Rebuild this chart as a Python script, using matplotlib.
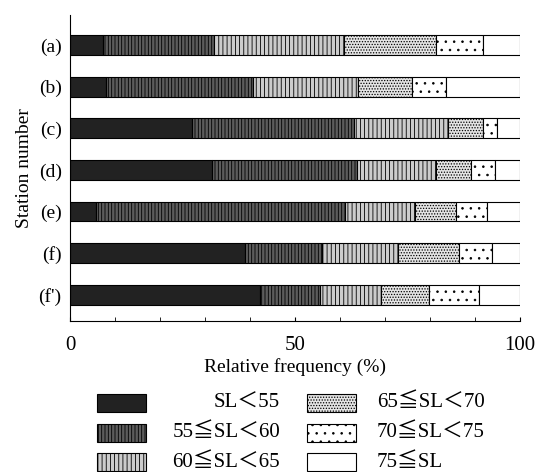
import numpy as np
import matplotlib
matplotlib.use('Agg')
import matplotlib.pyplot as plt
from matplotlib.patches import Rectangle
from matplotlib.ticker import MultipleLocator

plt.rcParams['font.family'] = ['Liberation Serif', 'Noto Sans CJK JP', 'DejaVu Sans']
plt.rcParams['hatch.linewidth'] = 0.6

stations = ['(a)', '(b)', '(c)', '(d)', '(e)', '(f)', "(f')"]
classes = ['SL＜55', '55≦SL＜60', '60≦SL＜65', '65≦SL＜70', '70≦SL＜75', '75≦SL']

# relative frequency (%) per class, one list per class, station order as above
sl_lt55 = [7.4, 8.0, 27.0, 31.5, 5.8, 38.8, 42.2]
sl_55_60 = [24.5, 32.6, 36.0, 32.3, 55.4, 17.2, 13.4]
sl_60_65 = [29.0, 23.4, 21.0, 17.5, 15.4, 16.8, 13.6]
sl_65_70 = [20.4, 11.9, 7.7, 7.7, 9.1, 13.6, 10.5]
sl_70_75 = [10.4, 7.6, 3.1, 5.4, 6.9, 7.4, 11.1]
sl_ge75 = [8.3, 16.5, 5.2, 5.6, 7.4, 6.2, 9.2]
series = [sl_lt55, sl_55_60, sl_60_65, sl_65_70, sl_70_75, sl_ge75]

# fill colour and hatch for each class
styles = [('#222222', ''), ('#5c5c5c', '|||||'), ('#cccccc', '||||'),
          ('#e4e4e4', '......'), ('#ffffff', '..'), ('#ffffff', '')]

fig = plt.figure(figsize=(5.39, 4.72), dpi=100)
ax = fig.add_axes([70/539, 1 - 321/472, 450/539, 306/472])

y = np.arange(len(stations))
left = np.zeros(len(stations))
for vals, (fc, h) in zip(series, styles):
    ax.barh(y, vals, left=left, height=0.48, color=fc, hatch=h,
            edgecolor='black', linewidth=0.8)
    left += np.array(vals)

ax.set_xlim(0, 100)
ax.set_ylim(len(stations) - 1 + 0.63, -0.72)
ax.set_yticks(y)
ax.set_yticklabels(stations, fontsize=14)
ax.tick_params(axis='y', length=0, pad=6)
ax.set_xticks([0, 50, 100])
ax.xaxis.set_minor_locator(MultipleLocator(10))
ax.tick_params(axis='x', which='both', direction='in', length=3, labelsize=15, pad=11)
ax.spines['top'].set_visible(False)
ax.spines['right'].set_visible(False)
ax.set_xlabel('Relative frequency (%)', fontsize=14, labelpad=2)
ax.set_ylabel('Station number', fontsize=14, labelpad=4)

# legend, two columns of three
row_y = [403, 433, 462]
for i, (lab, (fc, h)) in enumerate(zip(classes, styles)):
    col, row = divmod(i, 3)
    px = 97 if col == 0 else 307
    yc = row_y[row]
    fig.patches.append(Rectangle((px/539, 1 - (yc + 9)/472), 49/539, 18/472,
                                 transform=fig.transFigure, facecolor=fc,
                                 hatch=h, edgecolor='black', linewidth=0.8))
    if col == 0:
        fig.text(280/539, 1 - yc/472, lab, ha='right', va='center', fontsize=15)
    else:
        fig.text(377/539, 1 - yc/472, lab, ha='left', va='center', fontsize=15)

fig.savefig('out.png', dpi=100)
